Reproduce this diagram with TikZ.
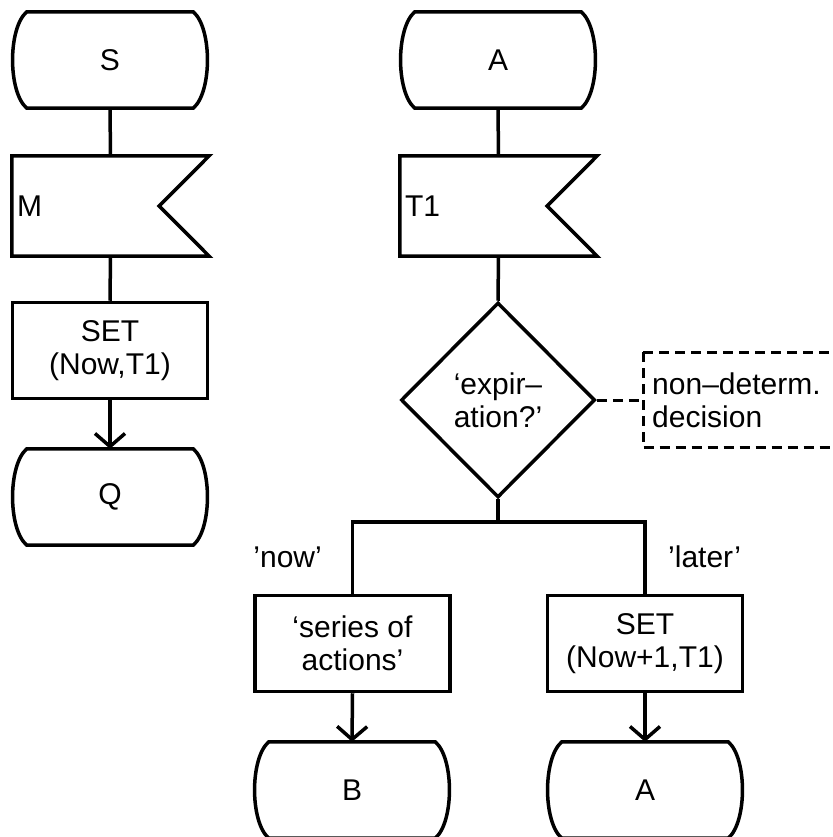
\documentclass[tikz,border=0pt]{standalone}
\usepackage{fontspec}
\setmainfont{Liberation Sans}
\usetikzlibrary{shapes.geometric, arrows.meta}

\tikzset{
  sdl/.style={line width=3.5pt, line join=miter},
  arrowflow/.style={sdl, -{Straight Barb[length=13pt, width=30pt, line width=3.5pt]}},
  commentline/.style={line width=3pt, dash pattern=on 10pt off 6pt},
  statebox/.style={rectangle, minimum width=196pt, minimum height=96pt, inner sep=0pt, align=center},
  taskbox/.style={rectangle, draw, sdl, minimum width=195pt, minimum height=96pt, inner sep=0pt, align=center},
  inputbox/.style={rectangle, text width=187pt, inner xsep=5pt, inner ysep=0pt, minimum height=100pt, align=left},
  decisionbox/.style={diamond, draw, sdl, minimum width=194pt, minimum height=195pt, inner sep=0pt, align=center},
  commentbox/.style={rectangle, text width=230pt, inner xsep=9pt, minimum height=95pt, align=left},
  branchlabel/.style={inner sep=0pt},
}

% SDL state symbol: straight top and bottom, bracket-like sides
\newcommand\sdlstate[3]{%
  \node[statebox] (#1) at (#2) {#3};
  \draw[sdl] ([xshift=15pt]#1.north west) -- ([xshift=-15pt]#1.north east)
    .. controls ([xshift=4pt,yshift=-16pt]#1.north east) and ([xshift=4pt,yshift=16pt]#1.south east)
    .. ([xshift=-15pt]#1.south east) -- ([xshift=15pt]#1.south west)
    .. controls ([xshift=-4pt,yshift=16pt]#1.south west) and ([xshift=-4pt,yshift=-16pt]#1.north west)
    .. cycle;}

% SDL input symbol: notch on the right side
\newcommand\sdlinput[3]{%
  \node[inputbox] (#1) at (#2) {#3};
  \draw[sdl] (#1.north west) -- (#1.north east) -- ([xshift=-50pt]#1.east)
    -- (#1.south east) -- (#1.south west) -- cycle;}

\begin{document}
\begin{tikzpicture}[x=1pt, y=-1pt, font=\fontsize{30}{33}\selectfont]
  \useasboundingbox (0,0) rectangle (832,837);
  \fill[white] (0,0) rectangle (832,837);
  \clip (0,0) rectangle (832,837);

  % left process: S -> M -> SET -> Q
  \sdlstate{S}{110,60}{S}
  \sdlinput{M}{110.5,206}{M}
  \node[taskbox] (set1) at (110,350.5) {SET\\(Now,T1)};
  \sdlstate{Q}{110,497}{Q}

  \draw[sdl] (S.south) -- (M.north);
  \draw[sdl] (M.south) -- (set1.north);
  \draw[arrowflow] (set1.south) -- (Q.north);

  % right process: A -> T1 -> decision
  \sdlstate{A}{498,60}{A}
  \sdlinput{T1}{498.5,206}{T1}
  \node[decisionbox] (dec) at (498,400) {‘expir–\\ation?’};
  \node[commentbox, anchor=west] (cmt) at (643,400) {non–determ.\\decision};

  \draw[sdl] (A.south) -- (T1.north);
  \draw[sdl] (T1.south) -- (dec.north);

  % comment attached to the decision
  \draw[commentline] (dec.east) -- (cmt.west);
  \draw[commentline] (cmt.north west) -- (cmt.north east);
  \draw[commentline] (cmt.north west) -- (cmt.south west) -- (cmt.south east);

  % branches
  \coordinate (split) at (498,522);
  \node[taskbox] (series) at (352.5,643.5) {‘series of\\actions’};
  \node[taskbox] (set2) at (645,643.5) {SET\\(Now+1,T1)};
  \sdlstate{B}{352,790}{B}
  \sdlstate{A2}{645,790}{A}

  \draw[sdl] (dec.south) -- (split);
  \draw[sdl] (series.north) -- (series.north |- split) -- (set2.north |- split) -- (set2.north);
  \node[branchlabel, anchor=base east] (lnow) at (322,567) {’now’};
  \node[branchlabel, anchor=base west] (llater) at (668,567) {’later’};

  \draw[arrowflow] (series.south) -- (B.north);
  \draw[arrowflow] (set2.south) -- (A2.north);
\end{tikzpicture}
\end{document}
